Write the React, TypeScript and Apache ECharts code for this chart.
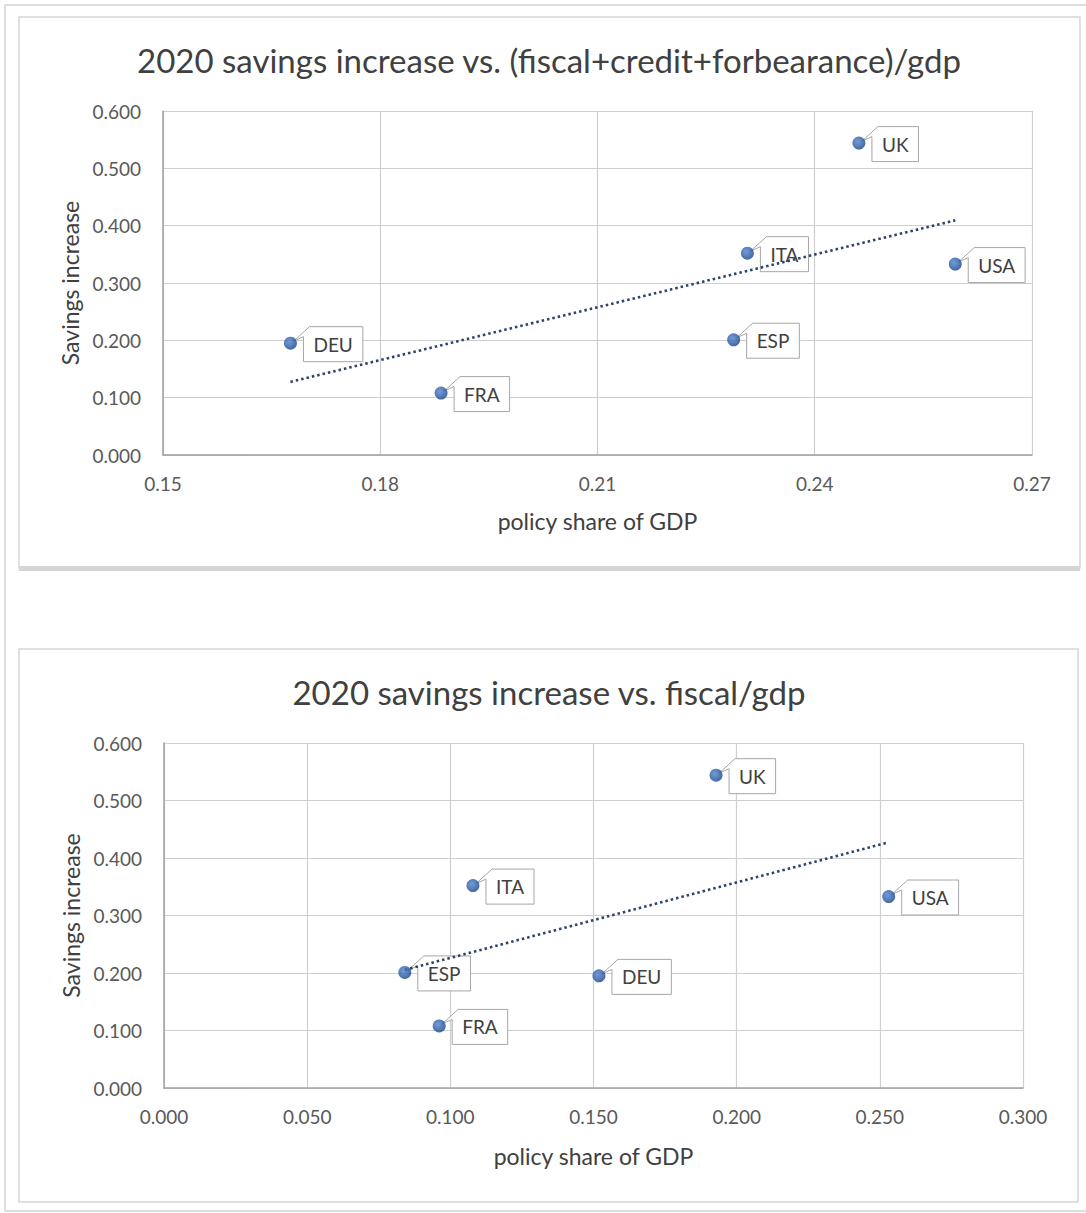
import React, { useEffect, useRef } from "react";
import * as echarts from "echarts";

// Country codes and their 2020 savings increase
const countries = ["DEU", "FRA", "ITA", "ESP", "UK", "USA"];
const savingsIncrease = [0.195, 0.108, 0.352, 0.201, 0.544, 0.333];

// Policy support as share of GDP
const policyShareTotal = [0.1676, 0.1884, 0.2307, 0.2288, 0.2461, 0.2594]; // fiscal+credit+forbearance
const policyShareFiscal = [0.1519, 0.0961, 0.1079, 0.0841, 0.1928, 0.2531]; // fiscal only

// Axis ranges
const topXAxis = { min: 0.15, max: 0.27, interval: 0.03, decimals: 2 };
const bottomXAxis = { min: 0, max: 0.3, interval: 0.05, decimals: 3 };
const yAxisRange = { min: 0, max: 0.6, interval: 0.1, decimals: 3 };

const titles = [
  "2020 savings increase vs. (fiscal+credit+forbearance)/gdp",
  "2020 savings increase vs. fiscal/gdp",
];
const xAxisTitle = "policy share of GDP";
const yAxisTitle = "Savings increase";

const FONT = "Lato, 'Open Sans', sans-serif";
const TEXT = "#404040";
const LABEL_SIZE = 19;
const NAME_SIZE = 23;

let measureCtx: CanvasRenderingContext2D | null = null;
function textWidth(s: string, size: number): number {
  if (!measureCtx) measureCtx = document.createElement("canvas").getContext("2d");
  if (!measureCtx) return s.length * size * 0.6;
  measureCtx.font = `${size}px Lato`;
  return measureCtx.measureText(s).width;
}

// Least-squares linear trend across the data's x range
function trendLine(xs: number[], ys: number[]): number[][] {
  const n = xs.length;
  const mx = xs.reduce((a, b) => a + b, 0) / n;
  const my = ys.reduce((a, b) => a + b, 0) / n;
  let sxy = 0;
  let sxx = 0;
  for (let i = 0; i < n; i++) {
    sxy += (xs[i] - mx) * (ys[i] - my);
    sxx += (xs[i] - mx) * (xs[i] - mx);
  }
  const slope = sxy / sxx;
  const x0 = Math.min(...xs);
  const x1 = Math.max(...xs);
  return [
    [x0, my + slope * (x0 - mx)],
    [x1, my + slope * (x1 - mx)],
  ];
}

// Callout box to the right of each point, with a small wedge pointing back at it
function renderCallout(params: any, api: any) {
  const name = countries[params.dataIndex];
  const [px, py] = api.coord([api.value(0), api.value(1)]);
  const w = textWidth(name, LABEL_SIZE) + 20;
  const h = 35;
  const bx = px + 13;
  const by = py - h / 2 + 1;
  return {
    type: "group",
    children: [
      {
        type: "polygon",
        shape: {
          points: [
            [bx + 6, by],
            [bx + w, by],
            [bx + w, by + h],
            [bx, by + h],
            [bx, by + 10],
            [px + 3, py - 2],
          ],
        },
        style: { fill: "#ffffff", stroke: "#a6a6a6", lineWidth: 1 },
      },
      {
        type: "text",
        x: bx + w / 2,
        y: by + h / 2,
        style: {
          text: name,
          align: "center",
          verticalAlign: "middle",
          fontSize: LABEL_SIZE,
          fontFamily: FONT,
          fill: TEXT,
        },
      },
    ],
  };
}

function pairs(xs: number[], ys: number[]): number[][] {
  return xs.map((x, i) => [x, ys[i]]);
}

const markerColor = new echarts.graphic.RadialGradient(0.4, 0.38, 0.65, [
  { offset: 0, color: "#4f82cc" },
  { offset: 0.6, color: "#2a5ca8" },
  { offset: 1, color: "#18427f" },
]);

function xAxisFor(gridIndex: number, r: typeof topXAxis, gap: number) {
  return {
    type: "value",
    gridIndex,
    min: r.min,
    max: r.max,
    interval: r.interval,
    name: xAxisTitle,
    nameLocation: "middle",
    nameGap: gap,
    nameTextStyle: { fontFamily: FONT, fontSize: NAME_SIZE, color: TEXT },
    axisLine: { show: true, lineStyle: { color: "#a0a0a0", width: 1.5 } },
    axisTick: { show: false },
    axisLabel: {
      margin: 19,
      fontFamily: FONT,
      fontSize: LABEL_SIZE,
      color: "#595959",
      formatter: (v: number) => v.toFixed(r.decimals),
    },
    splitLine: { show: true, lineStyle: { color: "#cfcfcf", width: 1.2 } },
  };
}

function yAxisFor(gridIndex: number) {
  return {
    type: "value",
    gridIndex,
    min: yAxisRange.min,
    max: yAxisRange.max,
    interval: yAxisRange.interval,
    name: yAxisTitle,
    nameLocation: "middle",
    nameGap: 80,
    nameTextStyle: { fontFamily: FONT, fontSize: NAME_SIZE, color: TEXT },
    axisLine: { show: true, lineStyle: { color: "#a0a0a0", width: 1.5 } },
    axisTick: { show: false },
    axisLabel: {
      margin: 22,
      fontFamily: FONT,
      fontSize: LABEL_SIZE,
      color: "#595959",
      formatter: (v: number) => v.toFixed(yAxisRange.decimals),
    },
    splitLine: { show: true, lineStyle: { color: "#cfcfcf", width: 1.2 } },
  };
}

function seriesFor(idx: number, xs: number[]) {
  return [
    {
      type: "line",
      xAxisIndex: idx,
      yAxisIndex: idx,
      data: trendLine(xs, savingsIncrease),
      symbol: "none",
      lineStyle: { color: "#2b4568", width: 2.6, type: [2.5, 3] },
      z: 3,
    },
    {
      type: "custom",
      xAxisIndex: idx,
      yAxisIndex: idx,
      data: pairs(xs, savingsIncrease),
      renderItem: renderCallout,
      clip: false,
      z: 2,
    },
    {
      type: "scatter",
      xAxisIndex: idx,
      yAxisIndex: idx,
      data: pairs(xs, savingsIncrease),
      symbolSize: 13,
      itemStyle: { color: markerColor },
      z: 4,
    },
  ];
}

export default function App() {
  const ref = useRef<HTMLDivElement>(null);

  useEffect(() => {
    if (!ref.current) return;
    const chart = echarts.init(ref.current, null, { renderer: "svg" });
    chart.setOption({
      animation: false,
      backgroundColor: "#ffffff",
      graphic: [
        {
          type: "rect",
          shape: { x: 5, y: 5, width: 1100, height: 1206 },
          style: { fill: "none", stroke: "#dedede", lineWidth: 2 },
          silent: true,
          z: 0,
        },
        {
          type: "rect",
          shape: { x: 19, y: 566, width: 1061, height: 5 },
          style: { fill: "#d4d4d4" },
          silent: true,
          z: 0,
        },
        {
          type: "rect",
          shape: { x: 19, y: 17, width: 1061, height: 551 },
          style: { fill: "none", stroke: "#d6d6d6", lineWidth: 1.5 },
          silent: true,
          z: 0,
        },
        {
          type: "rect",
          shape: { x: 19, y: 649, width: 1059, height: 553 },
          style: { fill: "none", stroke: "#d6d6d6", lineWidth: 1.5 },
          silent: true,
          z: 0,
        },
        {
          type: "text",
          x: 549,
          y: 60,
          style: {
            text: titles[0],
            align: "center",
            verticalAlign: "middle",
            fontFamily: FONT,
            fontSize: 33,
            fill: TEXT,
          },
        },
        {
          type: "text",
          x: 549,
          y: 692,
          style: {
            text: titles[1],
            align: "center",
            verticalAlign: "middle",
            fontFamily: FONT,
            fontSize: 33,
            fill: TEXT,
          },
        },
      ],
      grid: [
        { left: 163, top: 111, width: 869, height: 344 },
        { left: 164, top: 743, width: 859, height: 345 },
      ],
      xAxis: [xAxisFor(0, topXAxis, 54), xAxisFor(1, bottomXAxis, 56)],
      yAxis: [yAxisFor(0), yAxisFor(1)],
      series: [...seriesFor(0, policyShareTotal), ...seriesFor(1, policyShareFiscal)],
    });
    return () => chart.dispose();
  }, []);

  return (
    <div
      ref={ref}
      style={{ position: "absolute", left: 0, top: 0, width: 1086, height: 1213 }}
    />
  );
}
